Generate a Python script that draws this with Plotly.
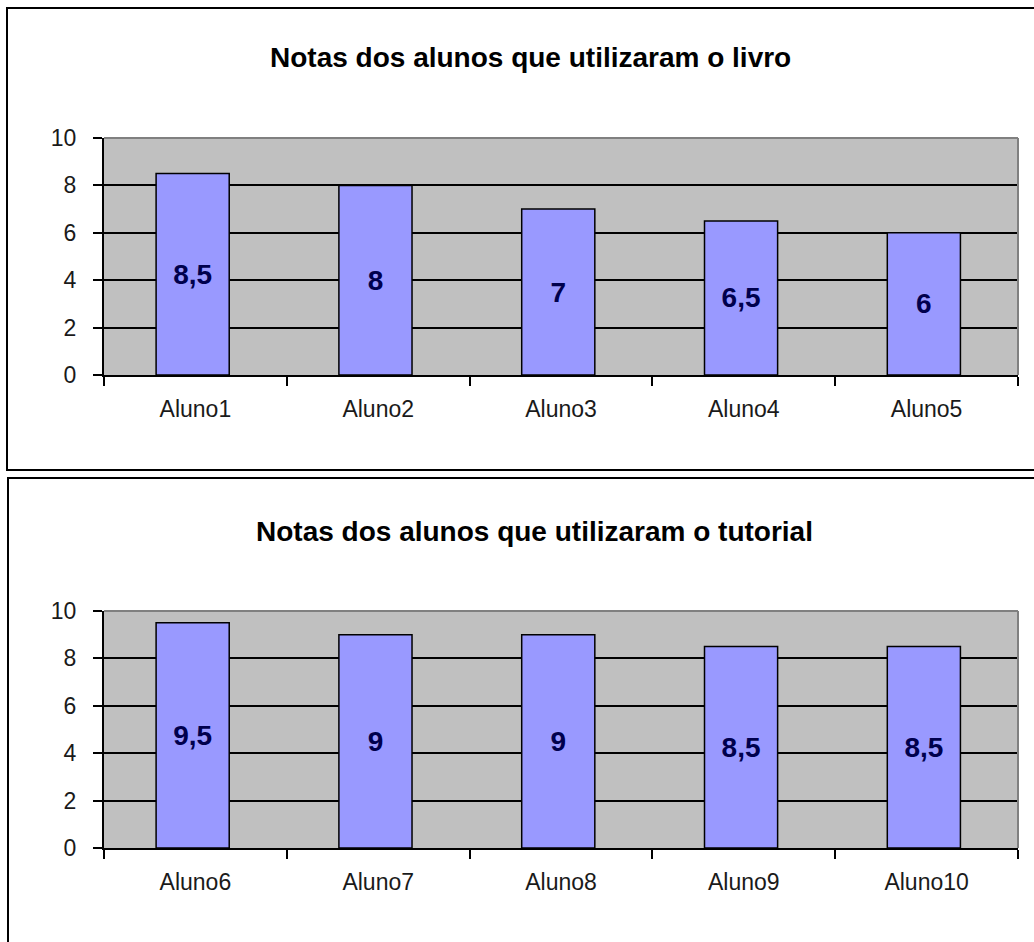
import plotly.graph_objects as go

# ---- data ----
title_top = "Notas dos alunos que utilizaram o livro"
title_bottom = "Notas dos alunos que utilizaram o tutorial"
alunos_livro = ["Aluno1", "Aluno2", "Aluno3", "Aluno4", "Aluno5"]
notas_livro = [8.5, 8, 7, 6.5, 6]
alunos_tutorial = ["Aluno6", "Aluno7", "Aluno8", "Aluno9", "Aluno10"]
notas_tutorial = [9.5, 9, 9, 8.5, 8.5]
y_ticks = [0, 2, 4, 6, 8, 10]

W, H = 1034, 942
FONT = "Liberation Sans, Arial, sans-serif"


def px(x):
    return x / W


def py(y):
    return 1 - y / H


def fmt(v):
    return "<b>" + f"{v:g}".replace(".", ",") + "</b>"


fig = go.Figure()

for cats, vals, xa, ya in [
    (alunos_livro, notas_livro, "x", "y"),
    (alunos_tutorial, notas_tutorial, "x2", "y2"),
]:
    fig.add_trace(go.Bar(
        x=cats, y=vals, xaxis=xa, yaxis=ya,
        width=0.4, offset=-0.215,
        marker=dict(color="#9999FF", line=dict(color="#000000", width=1.5)),
        text=[fmt(v) for v in vals],
        textposition="inside", insidetextanchor="middle", textangle=0,
        constraintext="none",
        textfont=dict(family=FONT, size=28, color="#00004d"),
        showlegend=False, hoverinfo="x+y",
    ))

xdom = [px(104), px(1018)]
ydom_top = [py(375), py(138)]
ydom_bot = [py(848), py(611)]

xaxis_common = dict(
    domain=xdom, type="category", showgrid=False, zeroline=False,
    showline=True, linecolor="#000000", linewidth=2,
    ticks="outside", tickson="boundaries", ticklen=9, tickwidth=2, tickcolor="#000000",
    tickfont=dict(family=FONT, size=23, color="#1a1a1a"),
    ticklabelstandoff=12, fixedrange=True, automargin=False,
)
yaxis_common = dict(
    range=[0, 10], tickvals=y_ticks, showgrid=True, gridcolor="#000000", gridwidth=2,
    zeroline=False, showline=True, linecolor="#000000", linewidth=2,
    ticks="outside", ticklen=9, tickwidth=2, tickcolor="#000000",
    tickfont=dict(family=FONT, size=23, color="#1a1a1a"),
    ticklabelstandoff=12, fixedrange=True, automargin=False,
)

fig.update_layout(
    width=W, height=H,
    margin=dict(l=0, r=0, t=0, b=0, pad=0, autoexpand=False),
    paper_bgcolor="#ffffff", plot_bgcolor="#c0c0c0",
    xaxis=dict(**xaxis_common, anchor="y"),
    yaxis=dict(**yaxis_common, domain=ydom_top, anchor="x"),
    xaxis2=dict(**xaxis_common, anchor="y2"),
    yaxis2=dict(**yaxis_common, domain=ydom_bot, anchor="x2"),
    bargap=0.6,
)

shapes = []
# gray plot-area border (top and right edges)
for xr, yr in [("x domain", "y domain"), ("x2 domain", "y2 domain")]:
    shapes.append(dict(type="line", xref=xr, yref=yr, x0=0, x1=1, y0=1, y1=1,
                       line=dict(color="#808080", width=2), layer="above"))
    shapes.append(dict(type="line", xref=xr, yref=yr, x0=1, x1=1, y0=0, y1=1,
                       line=dict(color="#808080", width=2), layer="above"))
# chart frames
shapes.append(dict(type="rect", xref="paper", yref="paper",
                   x0=px(7), x1=px(1040), y0=py(470), y1=py(8),
                   line=dict(color="#000000", width=2)))
shapes.append(dict(type="rect", xref="paper", yref="paper",
                   x0=px(8), x1=px(1040), y0=py(960), y1=py(478),
                   line=dict(color="#000000", width=2)))
fig.update_layout(shapes=shapes)

fig.add_annotation(text=f"<b>{title_top}</b>", xref="paper", yref="paper",
                   x=px(530), y=py(58), xanchor="center", yanchor="middle",
                   showarrow=False, font=dict(family=FONT, size=28, color="#000000"))
fig.add_annotation(text=f"<b>{title_bottom}</b>", xref="paper", yref="paper",
                   x=px(534), y=py(531), xanchor="center", yanchor="middle",
                   showarrow=False, font=dict(family=FONT, size=28, color="#000000"))

fig.write_html(
    "out.html",
    config={"displayModeBar": False},
    post_script="document.body.style.margin='0';document.body.style.overflow='hidden';",
)
